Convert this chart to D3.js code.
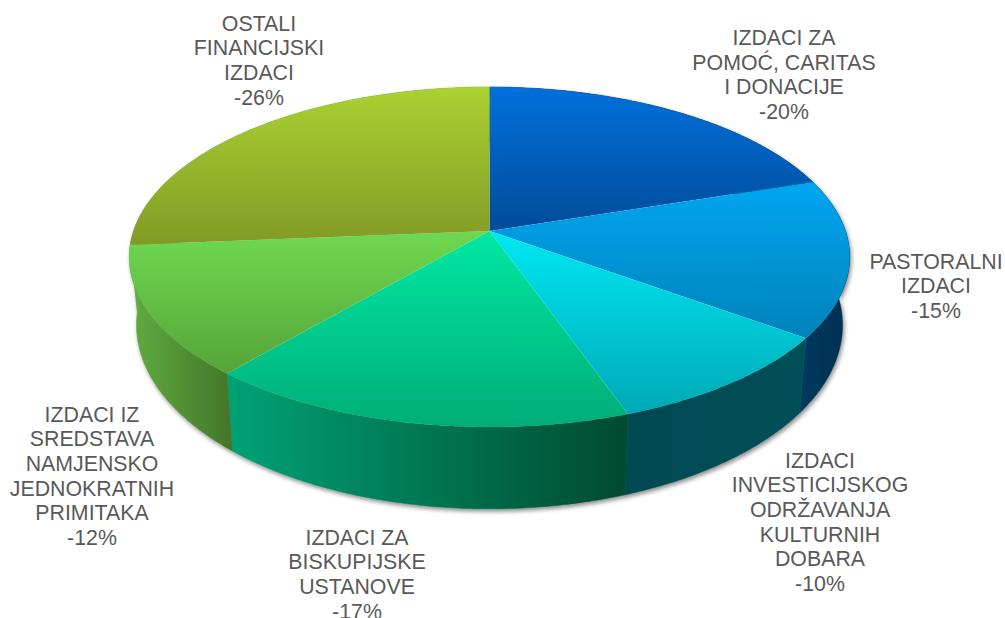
<!DOCTYPE html>
<html>
<head>
<meta charset="utf-8">
<script src="https://cdn.jsdelivr.net/npm/d3@7"></script>
<style>
html,body{margin:0;padding:0;background:#fff;overflow:hidden}
svg{display:block}
text{font-family:"Liberation Sans",Arial,sans-serif;font-size:21.33px;fill:#595959;text-anchor:middle}
</style>
</head>
<body>
<svg id="c" width="1005" height="618"></svg>
<script>
// Data
const categories = [
  ["IZDACI ZA","POMOĆ, CARITAS","I DONACIJE"],
  ["PASTORALNI","IZDACI"],
  ["IZDACI","INVESTICIJSKOG","ODRŽAVANJA","KULTURNIH","DOBARA"],
  ["IZDACI ZA","BISKUPIJSKE","USTANOVE"],
  ["IZDACI IZ","SREDSTAVA","NAMJENSKO","JEDNOKRATNIH","PRIMITAKA"],
  ["OSTALI","FINANCIJSKI","IZDACI"]
];
const values = [20, 15, 9.6, 16.7, 12.4, 26.3];
const percentLabels = ["-20%","-15%","-10%","-17%","-12%","-26%"];

// Styles
const topColors = [
  ["#0070dc","#004c98"],["#00a6f2","#0083ba"],["#00e8f4","#00a9b6"],
  ["#00e8a2","#00ae78"],["#6ed950","#56a438"],["#abd232","#829a26"]
];
const sideColors = [
  ["#002f50","#002f50"],["#003a60","#00304f"],["#004a52","#005058"],
  ["#00a274","#004a30"],["#60ad42","#437629"],["#60ad42","#60ad42"]
];
// Label centre x and the y of each label's first row, with row spacing
const labelX = [784, 936, 820, 357, 92, 259];
const labelY = [37.5, 261, 460, 537, 414, 23];
const lineStep = 24.7;

const svg = d3.select("#c");
const defs = svg.append("defs");
const shadow = defs.append("filter").attr("id","sh")
  .attr("x","-5%").attr("y","-5%").attr("width","110%").attr("height","115%");
shadow.append("feDropShadow").attr("dx",1.5).attr("dy",2.5).attr("stdDeviation",2.2)
  .attr("flood-color","#000").attr("flood-opacity",0.45);

// Perspective projection of a unit disc on to the page
const cx = 489.5, k = -0.153, ax = 356;
const topPlane = {sx:1, b:130.7, c:231};
const botPlane = {sx:0.98, b:134, c:297};
function project(angle, plane, r=1){
  const x = Math.sin(angle)*r, y = -Math.cos(angle)*r;
  const w = 1 + k*y;
  return [cx + plane.sx*ax*x/w, (plane.b*y + plane.c)/w];
}
const arcAngles = (a0,a1) => {
  const n = Math.max(2, Math.ceil((a1-a0)/0.01));
  return d3.range(n+1).map(i => a0 + (a1-a0)*i/n);
};
const line = d3.line().curve(d3.curveLinear);

const arcs = d3.pie().sort(null).value(d=>d)(values);
const chart = svg.append("g");
const body = chart.append("g").attr("filter","url(#sh)");

arcs.forEach((d,i)=>{
  const pts = arcAngles(d.startAngle,d.endAngle);
  const t = pts.map(a=>project(a,topPlane));
  const b = pts.map(a=>project(a,botPlane));
  const xs = t.concat(b).map(p=>p[0]);
  const g = defs.append("linearGradient").attr("id","s"+i)
    .attr("gradientUnits","userSpaceOnUse")
    .attr("x1",d3.min(xs)).attr("x2",d3.max(xs)).attr("y1",0).attr("y2",0);
  g.append("stop").attr("offset",0).attr("stop-color",sideColors[i][0]);
  g.append("stop").attr("offset",1).attr("stop-color",sideColors[i][1]);
  body.append("path")
    .attr("d", line(t.concat(b.slice().reverse()))+"Z")
    .attr("fill",`url(#s${i})`).attr("stroke",`url(#s${i})`).attr("stroke-width",0.5);
});

// Top surface
const centre = project(0,topPlane,0);
const face = chart.append("g");
arcs.forEach((d,i)=>{
  const g = defs.append("linearGradient").attr("id","t"+i)
    .attr("x1",0).attr("x2",0).attr("y1",0).attr("y2",1);
  g.append("stop").attr("offset",0).attr("stop-color",topColors[i][0]);
  g.append("stop").attr("offset",1).attr("stop-color",topColors[i][1]);
  const t = arcAngles(d.startAngle,d.endAngle).map(a=>project(a,topPlane));
  face.append("path")
    .attr("d", line([centre].concat(t))+"Z")
    .attr("fill",`url(#t${i})`);
});

// Labels
categories.forEach((lines,i)=>{
  const txt = svg.append("text");
  lines.concat([percentLabels[i]]).forEach((s,j)=>{
    txt.append("tspan").attr("x",labelX[i])
      .attr("y",labelY[i]+j*lineStep+7.5).text(s);
  });
});
</script>
</body>
</html>
